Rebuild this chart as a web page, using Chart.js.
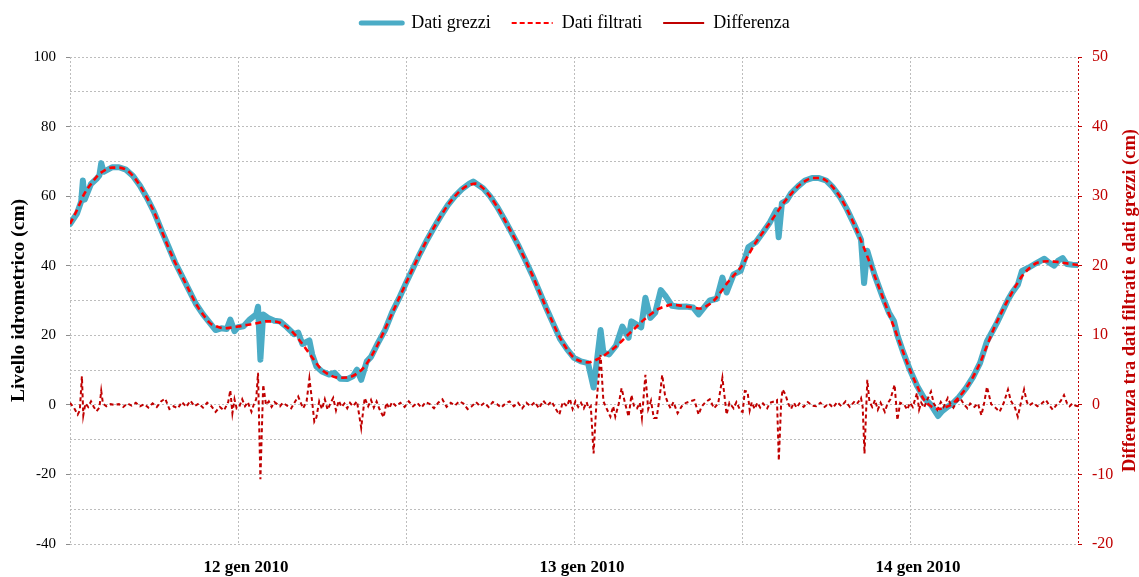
<!DOCTYPE html>
<html>
<head>
    <meta charset="UTF-8">
    <title>Livello idrometrico</title>
    <script src="https://cdn.jsdelivr.net/npm/chart.js"></script>
    <style type="text/css">
        body {
            padding:0px;
            margin:0px;
            background:#ffffff;
        }
        #box {
            width:1139px;
            height:577px;
        }
    </style>
</head>
<body>

<div id="box">
    <canvas id="levelChart" width="1139" height="577"></canvas>
</div>

<script type="text/javascript">

// hours counted from 11 gen 2010 12:00
var seriesNames = ["Dati grezzi", "Dati filtrati", "Differenza"];

var dayLabels = ["12 gen 2010", "13 gen 2010", "14 gen 2010"];
var dayLabelHours = [12, 36, 60];

// filtered level, one value every half hour (cm)
var filteredStepHours = 0.5;
var filteredLevels = [
    52, 56, 60.5, 63.5, 66, 67.5, 68.2, 68.2, 67.6, 65.8,
    63, 59.5, 55.5, 50.5, 45.5, 41, 37, 33, 29, 26,
    23.5, 22.5, 22, 22.2, 22.5, 22.9, 23.2, 23.6, 24, 24,
    23.6, 22.3, 20.5, 18, 15.3, 12.5, 10, 8.7, 7.9, 7.8,
    8, 9, 10.8, 13.8, 17.5, 21.8, 26.2, 30.6, 35, 39.3,
    43.5, 47.4, 51, 54.4, 57.5, 60, 62, 63.2, 63.6, 62.3,
    60, 57, 53.5, 49.8, 46, 41.8, 37.5, 32.8, 28, 23.5,
    19.3, 16, 13.5, 12.5, 12.2, 12.8, 13.8, 15.2, 16.8, 18.7,
    20.7, 22.6, 24.5, 26.1, 27.5, 28.3, 28.8, 28.6, 28.3, 28,
    27.7, 28.5, 30, 32.5, 35.3, 37.6, 40, 43.4, 46.8, 49.6,
    52.4, 55.3, 58.2, 60.6, 62.8, 64.3, 65.2, 65.2, 64.5, 62.5,
    59.8, 56.2, 52, 47.2, 42.2, 36.8, 31.5, 26.1, 20.8, 15.3,
    10, 5.5, 1.5, -0.4, -1.2, -0.7, 0.2, 2.2, 4.8, 8,
    12, 17, 22, 26.3, 30.2, 33.8, 37, 39.2, 40.7, 41.2,
    41.3, 41.1, 40.8, 40.5, 40.2
];

// raw readings (cm)
var rawHours = [
    0, 0.5, 0.8, 0.92, 1.05, 1.5, 1.9, 2.1, 2.23, 2.4,
    3, 3.5, 4, 4.5, 5, 5.5, 6, 6.5, 7, 7.5,
    8, 8.5, 9, 9.5, 10, 10.4, 10.8, 11.2, 11.45, 11.75,
    12, 12.4, 12.85, 13.3, 13.43, 13.6, 13.8, 14.15, 14.6, 15,
    15.5, 16, 16.3, 16.6, 17.1, 17.3, 17.6, 18, 18.5, 18.9,
    19.3, 19.8, 20.2, 20.5, 20.8, 21.2, 21.5, 22, 22.5, 23,
    23.5, 24, 24.5, 25, 25.5, 26, 26.5, 27, 27.5, 28,
    28.5, 28.8, 29.5, 30, 30.5, 31, 31.5, 32, 32.5, 33,
    33.5, 34, 34.5, 35, 35.5, 36, 36.5, 37, 37.4, 37.6,
    37.9, 38.1, 38.5, 39, 39.45, 39.9, 40.1, 40.5, 40.8, 41.1,
    41.45, 41.8, 42.2, 42.5, 43, 43.5, 44, 44.5, 44.9, 45.3,
    45.7, 46.2, 46.6, 46.9, 47.4, 47.9, 48.2, 48.45, 49, 49.5,
    50, 50.45, 50.62, 50.85, 51.2, 51.5, 52, 52.5, 53, 53.5,
    54, 54.5, 55, 55.5, 56, 56.5, 56.72, 56.95, 57.3, 57.5,
    58, 58.5, 58.85, 59.1, 59.5, 60, 60.5, 61, 61.5, 62,
    62.3, 62.7, 63, 63.5, 64, 64.5, 65, 65.5, 65.8, 66.2,
    66.5, 67, 67.3, 67.7, 68, 68.5, 69, 69.6, 69.9, 70.3,
    70.6, 70.9, 71.2, 71.6, 72
];
var rawLevels = [
    52, 55, 58.5, 64.5, 59, 63.5, 65, 66, 69.5, 67,
    68.3, 68.3, 67.6, 65.8, 63, 59.5, 55.5, 50.5, 45.8, 41,
    37, 33, 29, 26, 23.5, 21.5, 22, 21.8, 24.5, 21.2,
    22.3, 22.6, 24.6, 26, 28.2, 13, 26, 25, 24.2, 24,
    22.3, 20.3, 20.8, 17.5, 18.5, 14.5, 11, 9.6, 8.7, 9.2,
    7.5, 7.4, 8.2, 10.1, 7.2, 12.5, 13.8, 17.8, 21.5, 26.5,
    30.6, 35, 39.3, 43.5, 47.4, 51, 54.4, 57.5, 60, 62,
    63.5, 64.2, 62.3, 60, 57, 53.5, 49.8, 46, 41.8, 37.5,
    32.8, 28, 23.5, 19, 16, 13.5, 12.5, 12, 5, 11.5,
    21.5, 15, 14.5, 17, 22.5, 19.3, 24, 23, 22.3, 30.8,
    25, 26.5, 33, 31.5, 28.5, 28.2, 28.3, 28, 26, 28,
    30, 30.5, 36.6, 32.3, 37.5, 38.5, 42, 45.3, 46.8, 49.6,
    52.5, 56, 48.2, 58, 58.8, 60.8, 62.8, 64.5, 65.2, 65.2,
    64.5, 62.5, 59.8, 56.2, 52, 47.5, 35, 44.3, 39.5, 37,
    31.5, 26.5, 24.1, 20, 15.3, 10, 5.5, 2, 0, -3.2,
    -1.8, -0.5, 0.2, 2.2, 4.8, 8, 12, 18.3, 20.5, 23.5,
    26, 30.2, 32.3, 34.5, 38.5, 39.5, 40.7, 42, 41, 40,
    41.5, 42.2, 40.5, 40.3, 40.2
];

// difference raw - filtered (cm, right axis)
var diffHours = [
    0, 0.3, 0.55, 0.7, 0.85, 0.95, 1.1, 1.3, 1.5, 1.7,
    1.9, 2.1, 2.23, 2.35, 2.6, 2.9, 3.2, 3.5, 3.8, 4.1,
    4.4, 4.7, 5.0, 5.3, 5.6, 5.9, 6.2, 6.5, 6.8, 7.1,
    7.4, 7.7, 8.0, 8.3, 8.6, 8.9, 9.2, 9.5, 9.8, 10.1,
    10.4, 10.7, 11.0, 11.3, 11.45, 11.6, 11.75, 11.9, 12.1, 12.3,
    12.5, 12.7, 12.96, 13.15, 13.3, 13.43, 13.6, 13.8, 14.0, 14.2,
    14.4, 14.6, 14.8, 15.0, 15.2, 15.5, 15.8, 16.0, 16.3, 16.5,
    16.65, 16.9, 17.1, 17.3, 17.45, 17.6, 17.8, 18.0, 18.2, 18.4,
    18.6, 18.8, 19.0, 19.2, 19.4, 19.6, 19.8, 20.0, 20.2, 20.5,
    20.8, 21.05, 21.3, 21.5, 21.7, 21.9, 22.1, 22.4, 22.6, 22.8,
    23.0, 23.3, 23.6, 23.9, 24.2, 24.5, 24.8, 25.1, 25.4, 25.7,
    26.0, 26.3, 26.6, 26.9, 27.2, 27.5, 27.8, 28.1, 28.4, 28.7,
    29.0, 29.3, 29.6, 29.9, 30.2, 30.5, 30.8, 31.1, 31.4, 31.7,
    32.0, 32.3, 32.6, 32.9, 33.2, 33.5, 33.8, 34.1, 34.4, 34.7,
    34.95, 35.2, 35.5, 35.7, 35.9, 36.1, 36.3, 36.5, 36.7, 36.9,
    37.05, 37.2, 37.4, 37.6, 37.9, 38.1, 38.3, 38.6, 38.8, 38.95,
    39.2, 39.4, 39.65, 39.9, 40.1, 40.3, 40.5, 40.7, 40.85, 41.1,
    41.3, 41.5, 41.7, 41.9, 42.1, 42.3, 42.5, 42.7, 42.9, 43.1,
    43.4, 43.7, 44.0, 44.3, 44.6, 44.9, 45.1, 45.4, 45.7, 46.0,
    46.3, 46.6, 46.9, 47.1, 47.4, 47.6, 47.9, 48.05, 48.2, 48.4,
    48.55, 48.7, 48.9, 49.1, 49.3, 49.5, 49.8, 50.0, 50.3, 50.5,
    50.63, 50.8, 50.9, 51.1, 51.3, 51.5, 51.7, 51.9, 52.1, 52.4,
    52.7, 53.0, 53.3, 53.6, 53.9, 54.2, 54.5, 54.8, 55.1, 55.4,
    55.7, 56.0, 56.2, 56.5, 56.62, 56.75, 56.95, 57.1, 57.3, 57.5,
    57.7, 57.9, 58.2, 58.4, 58.6, 58.9, 59.1, 59.3, 59.6, 59.8,
    60.0, 60.2, 60.5, 60.65, 60.8, 61.0, 61.2, 61.5, 61.7, 61.96,
    62.2, 62.4, 62.7, 62.9, 63.1, 63.35, 63.6, 63.85, 64.1, 64.3,
    64.6, 64.85, 65.1, 65.3, 65.5, 65.8, 66.1, 66.4, 66.7, 67.0,
    67.2, 67.5, 67.7, 67.9, 68.15, 68.35, 68.5, 68.8, 69.1, 69.4,
    69.7, 70.0, 70.2, 70.5, 70.75, 71.0, 71.2, 71.4, 71.6, 71.8,
    72.0
];
var diffValues = [
    0.3, -0.5, -1.4, -0.8, 4.1, -1.5, 0.2, -0.3, 0.5, -0.3,
    -0.9, -0.4, 2.0, 0.2, -0.2, 0.1, 0, 0.1, -0.3, 0.2,
    -0.1, 0.3, -0.2, 0.1, -0.4, 0.2, -0.3, 0.5, 0.9, -0.6,
    -0.2, -0.5, 0.4, -0.3, 0.6, -0.2, 0.2, -0.4, 0.3, -0.2,
    -1.0, -0.3, -0.8, 0.4, 2.1, -1.2, 0.8, -0.5, -0.2, 0.8,
    -0.2, 0.4, -1.0, 0.2, 0.8, 4.6, -10.7, 2.9, 0, 0.5,
    -0.3, 0.4, 0.1, -0.2, 0.3, -0.1, -0.5, 0.2, 1.2, 0.2,
    -0.5, 0.5, 3.8, 0.4, -2.4, -1.8, 0.5, -0.6, 0.8, -0.7,
    0.2, 1.0, -0.8, 0.6, -0.3, 0.2, -0.5, 0.3, -0.2, 0.5,
    -3.3, 1.0, -0.2, 0.7, -0.4, 0.5, -0.6, -1.8, 0.3, -0.5,
    0.4, -0.2, 0.3, -0.3, 0.5, -0.2, 0.3, -0.4, 0.4, 0.1,
    -0.5, 0.3, 0.8, -0.3, 0.3, -0.1, 0.5, 0.2, -0.6, -0.2,
    0.4, -0.2, 0.3, -0.3, 0.4, 0.1, -0.4, 0.2, 0.5, -0.2,
    0.3, -0.5, 0.3, -0.2, 0.4, -0.5, 0.6, -0.1, 0.5, -0.6,
    -1.4, 0.4, -0.2, 0.9, -0.6, 0.5, -0.3, 0.3, -0.5, 0.4,
    -0.5, -0.2, -7.0, 0.2, 7.2, 0.5, -0.4, -1.7, -0.2, -1.7,
    0.2, 2.4, 0.2, -1.7, 1.4, -0.3, -0.5, 0.3, -1.9, 4.3,
    -0.6, 0.6, -1.9, -1.9, 0.8, 4.3, 1.4, 0.3, -0.5, 0.4,
    -1.2, -0.2, 0.3, 0.5, 0.7, -1.4, -0.3, 0.4, 0.8, -0.5,
    0.2, 3.9, -1.4, 0.3, -0.5, 0.4, -0.9, -1.0, 2.0, 1.9,
    -0.8, 0.4, -0.6, 0.3, -0.4, 0.2, -0.5, 0.3, 0.5, 0.7,
    -8.0, 0.5, 2.2, 1.5, 0.2, -0.6, 0.3, -0.4, 0.2, -0.3,
    0.4, -0.1, -0.2, 0.3, -0.3, 0.2, -0.4, 0.4, -0.2, 0.5,
    -0.3, 0.4, 0.1, 1.0, -0.3, -7.0, 3.6, 0.5, -0.3, 0.7,
    -0.7, 0.3, -1.0, 0.2, 0.8, 2.9, -2.2, 0.3, 0.0, -0.7,
    0.3, -0.3, 1.7, -0.7, 0.3, -0.4, 0.6, 1.9, 0.2, -0.7,
    0.4, -0.3, 1.0, 0.1, -0.4, 0.5, 0.9, 0.1, -0.5, 0.2,
    -0.3, 0.2, -1.5, 0.3, 2.6, 0.1, -0.4, -1.0, 0.3, 2.2,
    0.6, -0.4, -1.7, 0.1, 2.2, 0.4, -0.1, 0.3, -0.2, 0.2,
    0.7, -0.2, -0.7, 0.1, 0.5, 1.4, 0.3, -0.2, 0.2, -0.1,
    -0.2
];

var leftTitle = "Livello idrometrico (cm)";
var rightTitle = "Differenza tra dati filtrati e dati grezzi (cm)";

var serif = "'Liberation Serif', 'Times New Roman', serif";
var gridGray = "#bdbdbd";
var darkRed = "#C00000";

function pairs(xs, ys) {
    var out = [];
    for (var i = 0; i < ys.length; i++) {
        out.push({x: xs[i], y: ys[i]});
    }
    return out;
}

var filteredData = filteredLevels.map(function (v, i) {
    return {x: i * filteredStepHours, y: v};
});

// both axis titles read bottom to top, drawn by hand
function drawVerticalTitle(ctx, text, x, y, size, color) {
    ctx.save();
    ctx.translate(x, y);
    ctx.rotate(-Math.PI / 2);
    ctx.font = "bold " + size + "px " + serif;
    ctx.fillStyle = color;
    ctx.textAlign = 'center';
    ctx.textBaseline = 'middle';
    ctx.fillText(text, 0, 0);
    ctx.restore();
}

var axisTitlesPlugin = {
    id: 'axisTitles',
    afterDraw: function (chart) {
        var area = chart.chartArea;
        var midY = (area.top + area.bottom) / 2;
        drawVerticalTitle(chart.ctx, leftTitle, 18.5, midY, 19.5, "#000");
        drawVerticalTitle(chart.ctx, rightTitle, chart.width - 9, midY, 18.5, darkRed);
    }
};

var ctx = document.getElementById('levelChart').getContext('2d');
var levelChart = new Chart(ctx, {
    type: 'line',
    data: {
        datasets: [{
            label: seriesNames[0],
            data: pairs(rawHours, rawLevels),
            borderColor: "#4BACC6",
            backgroundColor: "#4BACC6",
            borderWidth: 6,
            borderJoinStyle: 'round',
            borderCapStyle: 'round',
            pointRadius: 0,
            tension: 0,
            yAxisID: 'y',
            order: 3
        }, {
            label: seriesNames[1],
            data: filteredData,
            borderColor: "#FF0000",
            backgroundColor: "#FF0000",
            borderWidth: 2.6,
            borderDash: [6, 4],
            pointRadius: 0,
            cubicInterpolationMode: 'monotone',
            yAxisID: 'y',
            order: 1
        }, {
            label: seriesNames[2],
            data: pairs(diffHours, diffValues),
            borderColor: darkRed,
            backgroundColor: darkRed,
            borderWidth: 2,
            borderDash: [4, 3],
            pointRadius: 0,
            tension: 0,
            yAxisID: 'y1',
            order: 2
        }]
    },
    options: {
        responsive: false,
        animation: false,
        layout: { padding: { top: -7, left: 12, right: 0, bottom: 0 } },
        plugins: {
            tooltip: { enabled: false },
            legend: {
                position: 'top',
                labels: {
                    font: { family: serif, size: 18 },
                    color: "#000",
                    usePointStyle: true,
                    pointStyleWidth: 41,
                    boxHeight: 10,
                    padding: 21,
                    sort: function (a, b) { return a.datasetIndex - b.datasetIndex; },
                    generateLabels: function (chart) {
                        var items = Chart.defaults.plugins.legend.labels.generateLabels(chart);
                        items.forEach(function (it) {
                            it.pointStyle = 'line';
                            if (it.datasetIndex === 0) { it.lineWidth = 5; it.lineCap = 'round'; }
                            if (it.datasetIndex === 1) { it.lineWidth = 2; it.lineDash = [5, 3]; }
                            if (it.datasetIndex === 2) { it.lineWidth = 2; it.lineDash = []; }
                        });
                        return items;
                    }
                }
            }
        },
        scales: {
            x: {
                type: 'linear',
                position: 'bottom',
                min: 0,
                max: 72,
                afterFit: function (s) { s.height = 33; },
                ticks: {
                    stepSize: 12,
                    autoSkip: false,
                    maxRotation: 0,
                    labelOffset: 8,
                    padding: 13,
                    color: "#000",
                    font: { family: serif, size: 17, weight: 'bold' },
                    callback: function (v) {
                        var k = dayLabelHours.indexOf(v);
                        return k >= 0 ? dayLabels[k] : '';
                    }
                },
                grid: {
                    drawTicks: false,
                    color: function (c) {
                        return (c.tick && c.tick.value === 72) ? darkRed : gridGray;
                    }
                },
                border: { display: false, dash: [2, 2] }
            },
            xTop: {
                type: 'linear',
                position: 'top',
                min: 0,
                max: 72,
                afterFit: function (s) { s.height = 15; },
                ticks: { display: false },
                grid: { display: false, drawTicks: false },
                border: { display: false }
            },
            y: {
                type: 'linear',
                position: 'left',
                min: -40,
                max: 100,
                afterFit: function (s) { s.width = 58; },
                ticks: {
                    stepSize: 10,
                    padding: 10,
                    color: "#000",
                    font: { family: serif, size: 15 },
                    callback: function (v) { return v % 20 === 0 ? v : ''; }
                },
                grid: {
                    color: gridGray,
                    tickLength: 4,
                    tickColor: function (c) {
                        return (c.tick && c.tick.value % 20 === 0) ? "#8c8c8c" : 'rgba(0,0,0,0)';
                    }
                },
                border: { display: false, dash: [2, 2] }
            },
            y1: {
                type: 'linear',
                position: 'right',
                min: -20,
                max: 50,
                afterFit: function (s) { s.width = 61; },
                ticks: {
                    stepSize: 10,
                    padding: 10,
                    color: darkRed,
                    font: { family: serif, size: 16 }
                },
                grid: {
                    drawOnChartArea: false,
                    tickLength: 4,
                    tickColor: darkRed
                },
                border: { display: false }
            }
        }
    },
    plugins: [axisTitlesPlugin]
});

</script>

</body>
</html>
